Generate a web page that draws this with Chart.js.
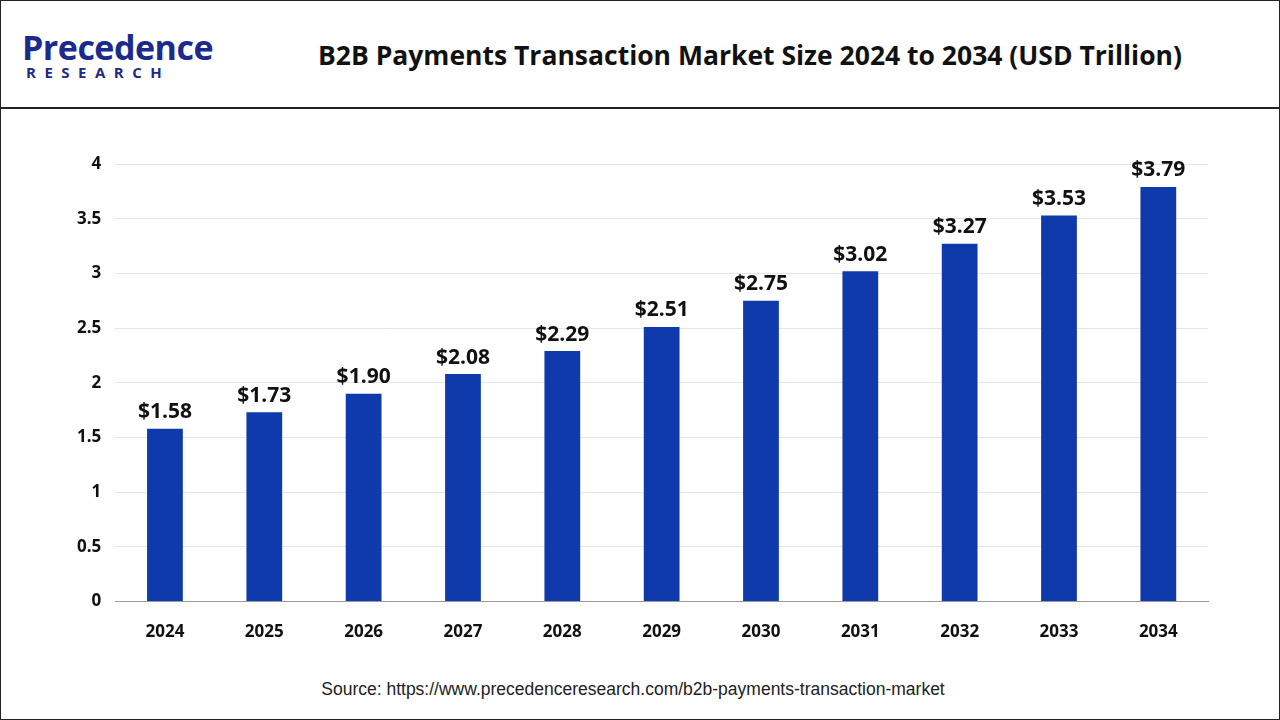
<!DOCTYPE html>
<html><head><meta charset="utf-8">
<script src="https://cdn.jsdelivr.net/npm/chart.js@4"></script>
<style>
html,body{margin:0;padding:0;width:1280px;height:720px;overflow:hidden;background:#fff;font-family:"Open Sans","Liberation Sans",sans-serif}
#frame{position:absolute;left:0;top:0;width:1278px;height:718px;border:1px solid #222}
#hdr{position:absolute;left:0;top:0;width:1280px;height:107px;border-bottom:2px solid #222}
#logo1{position:absolute;left:22px;top:24px;font:bold 34px "Open Sans",sans-serif;color:#1b2a8c;letter-spacing:-0.5px}
#logo2{position:absolute;left:26px;top:62px;font:bold 15px "Open Sans",sans-serif;color:#1b2a8c;letter-spacing:8.5px}
#title{position:absolute;left:250px;width:1000px;top:37px;text-align:center;font:bold 26.5px "Open Sans",sans-serif;color:#111}
#src{position:absolute;left:0;width:1266px;top:679px;text-align:center;font:17.5px "Liberation Sans",Arial,sans-serif;color:#222}
#wrap{position:absolute;left:0;top:110px;width:1280px;height:566px}
</style></head><body>
<div id="frame"></div>
<div id="hdr"><div id="logo1">Precedence</div><div id="logo2">RESEARCH</div>
<div id="title">B2B Payments Transaction Market Size 2024 to 2034 (USD Trillion)</div></div>
<div id="wrap"><canvas id="c" width="1280" height="566"></canvas></div>
<div id="src">Source: https://www.precedenceresearch.com/b2b-payments-transaction-market</div>
<script>
const years=["2024","2025","2026","2027","2028","2029","2030","2031","2032","2033","2034"];
const values=[1.58,1.73,1.90,2.08,2.29,2.51,2.75,3.02,3.27,3.53,3.79];
const labelPlugin={id:'lbl',afterDatasetsDraw(ch){const c=ch.ctx;const m=ch.getDatasetMeta(0);c.save();c.font='bold 21px "Open Sans",sans-serif';c.fillStyle='#111';c.textAlign='center';c.textBaseline='bottom';m.data.forEach((b,i)=>c.fillText('$'+values[i].toFixed(2),b.x,b.y-6));c.restore();}};
new Chart(document.getElementById('c'),{type:'bar',data:{labels:years,datasets:[{data:values,backgroundColor:'#0f3aab',barPercentage:0.36,categoryPercentage:1}]},
options:{responsive:false,animation:false,plugins:{legend:{display:false},tooltip:{enabled:false}},
layout:{padding:{top:54,left:63,right:72,bottom:14}},
scales:{y:{min:0,max:4,ticks:{stepSize:0.5,color:'#111',font:{size:17,weight:'bold',family:'"Open Sans",sans-serif'},padding:14,callback:v=>String(v)},grid:{color:'#e6e6e6',drawTicks:false},border:{display:false}},
x:{ticks:{color:'#111',font:{size:17,weight:'bold',family:'"Open Sans",sans-serif'},padding:20},grid:{display:false,drawTicks:false},border:{color:'#999'}}}},plugins:[labelPlugin]});
</script></body></html>
